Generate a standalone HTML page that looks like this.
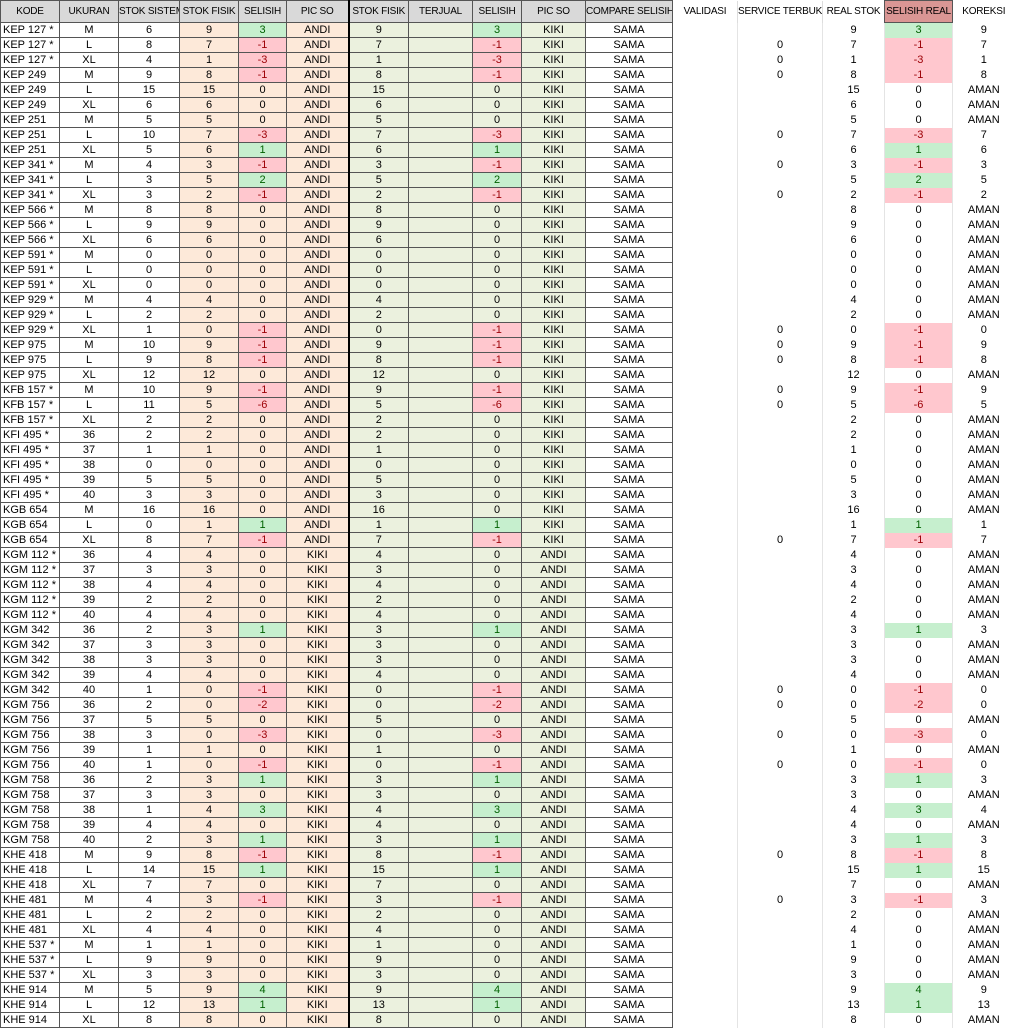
<!DOCTYPE html><html><head><meta charset="utf-8"><style>
body{margin:0;background:#fff;width:1014px;height:1027px;overflow:hidden}
table{border-collapse:collapse;table-layout:fixed;width:1014px;font-family:"Liberation Sans",Arial,sans-serif;font-size:11px;color:#000}
td{border:1px solid #555;height:14px;padding:0;text-align:center;white-space:nowrap;overflow:hidden;line-height:13px}
tr.h td{height:21px;background:#d9d9d9;font-size:10px;letter-spacing:-0.2px}
tr.h td.x{background:#fff;border:none;border-left:1px solid #ddd}
tr.h td.sr{background:#da9694}
td.l{text-align:left;padding-left:2px}
td.p{background:#fde9d9}
td.g{background:#ebf1de}
td.G{background:#c6efce;color:#006100}
td.R{background:#ffc7ce;color:#9c0006}
td.k{border-left:2px solid #000}
td.w{border:none;border-left:1px solid #e4e4e4}
td.v{border-left:1px solid #333}
</style></head><body>
<table>
<colgroup><col style="width:59px"><col style="width:59px"><col style="width:61px"><col style="width:59px"><col style="width:48px"><col style="width:62px"><col style="width:60px"><col style="width:64px"><col style="width:49px"><col style="width:64px"><col style="width:87px"><col style="width:65px"><col style="width:85px"><col style="width:62px"><col style="width:68px"><col style="width:62px"></colgroup>
<tr class="h"><td>KODE</td><td>UKURAN</td><td>STOK SISTEM</td><td>STOK FISIK</td><td>SELISIH</td><td>PIC SO</td><td class="k">STOK FISIK</td><td>TERJUAL</td><td>SELISIH</td><td>PIC SO</td><td>COMPARE SELISIH</td><td class="x v">VALIDASI</td><td class="x">SERVICE TERBUKA</td><td class="x">REAL STOK</td><td class="sr">SELISIH REAL</td><td class="x">KOREKSI</td></tr>
<tr><td class="l">KEP 127 *</td><td>M</td><td>6</td><td class="p">9</td><td class="G">3</td><td class="p">ANDI</td><td class="g k">9</td><td class="g"></td><td class="G">3</td><td class="g">KIKI</td><td>SAMA</td><td class="w v"></td><td class="w"></td><td class="w">9</td><td class="w G">3</td><td class="w">9</td></tr>
<tr><td class="l">KEP 127 *</td><td>L</td><td>8</td><td class="p">7</td><td class="R">-1</td><td class="p">ANDI</td><td class="g k">7</td><td class="g"></td><td class="R">-1</td><td class="g">KIKI</td><td>SAMA</td><td class="w v"></td><td class="w">0</td><td class="w">7</td><td class="w R">-1</td><td class="w">7</td></tr>
<tr><td class="l">KEP 127 *</td><td>XL</td><td>4</td><td class="p">1</td><td class="R">-3</td><td class="p">ANDI</td><td class="g k">1</td><td class="g"></td><td class="R">-3</td><td class="g">KIKI</td><td>SAMA</td><td class="w v"></td><td class="w">0</td><td class="w">1</td><td class="w R">-3</td><td class="w">1</td></tr>
<tr><td class="l">KEP 249</td><td>M</td><td>9</td><td class="p">8</td><td class="R">-1</td><td class="p">ANDI</td><td class="g k">8</td><td class="g"></td><td class="R">-1</td><td class="g">KIKI</td><td>SAMA</td><td class="w v"></td><td class="w">0</td><td class="w">8</td><td class="w R">-1</td><td class="w">8</td></tr>
<tr><td class="l">KEP 249</td><td>L</td><td>15</td><td class="p">15</td><td class="p">0</td><td class="p">ANDI</td><td class="g k">15</td><td class="g"></td><td class="g">0</td><td class="g">KIKI</td><td>SAMA</td><td class="w v"></td><td class="w"></td><td class="w">15</td><td class="w">0</td><td class="w">AMAN</td></tr>
<tr><td class="l">KEP 249</td><td>XL</td><td>6</td><td class="p">6</td><td class="p">0</td><td class="p">ANDI</td><td class="g k">6</td><td class="g"></td><td class="g">0</td><td class="g">KIKI</td><td>SAMA</td><td class="w v"></td><td class="w"></td><td class="w">6</td><td class="w">0</td><td class="w">AMAN</td></tr>
<tr><td class="l">KEP 251</td><td>M</td><td>5</td><td class="p">5</td><td class="p">0</td><td class="p">ANDI</td><td class="g k">5</td><td class="g"></td><td class="g">0</td><td class="g">KIKI</td><td>SAMA</td><td class="w v"></td><td class="w"></td><td class="w">5</td><td class="w">0</td><td class="w">AMAN</td></tr>
<tr><td class="l">KEP 251</td><td>L</td><td>10</td><td class="p">7</td><td class="R">-3</td><td class="p">ANDI</td><td class="g k">7</td><td class="g"></td><td class="R">-3</td><td class="g">KIKI</td><td>SAMA</td><td class="w v"></td><td class="w">0</td><td class="w">7</td><td class="w R">-3</td><td class="w">7</td></tr>
<tr><td class="l">KEP 251</td><td>XL</td><td>5</td><td class="p">6</td><td class="G">1</td><td class="p">ANDI</td><td class="g k">6</td><td class="g"></td><td class="G">1</td><td class="g">KIKI</td><td>SAMA</td><td class="w v"></td><td class="w"></td><td class="w">6</td><td class="w G">1</td><td class="w">6</td></tr>
<tr><td class="l">KEP 341 *</td><td>M</td><td>4</td><td class="p">3</td><td class="R">-1</td><td class="p">ANDI</td><td class="g k">3</td><td class="g"></td><td class="R">-1</td><td class="g">KIKI</td><td>SAMA</td><td class="w v"></td><td class="w">0</td><td class="w">3</td><td class="w R">-1</td><td class="w">3</td></tr>
<tr><td class="l">KEP 341 *</td><td>L</td><td>3</td><td class="p">5</td><td class="G">2</td><td class="p">ANDI</td><td class="g k">5</td><td class="g"></td><td class="G">2</td><td class="g">KIKI</td><td>SAMA</td><td class="w v"></td><td class="w"></td><td class="w">5</td><td class="w G">2</td><td class="w">5</td></tr>
<tr><td class="l">KEP 341 *</td><td>XL</td><td>3</td><td class="p">2</td><td class="R">-1</td><td class="p">ANDI</td><td class="g k">2</td><td class="g"></td><td class="R">-1</td><td class="g">KIKI</td><td>SAMA</td><td class="w v"></td><td class="w">0</td><td class="w">2</td><td class="w R">-1</td><td class="w">2</td></tr>
<tr><td class="l">KEP 566 *</td><td>M</td><td>8</td><td class="p">8</td><td class="p">0</td><td class="p">ANDI</td><td class="g k">8</td><td class="g"></td><td class="g">0</td><td class="g">KIKI</td><td>SAMA</td><td class="w v"></td><td class="w"></td><td class="w">8</td><td class="w">0</td><td class="w">AMAN</td></tr>
<tr><td class="l">KEP 566 *</td><td>L</td><td>9</td><td class="p">9</td><td class="p">0</td><td class="p">ANDI</td><td class="g k">9</td><td class="g"></td><td class="g">0</td><td class="g">KIKI</td><td>SAMA</td><td class="w v"></td><td class="w"></td><td class="w">9</td><td class="w">0</td><td class="w">AMAN</td></tr>
<tr><td class="l">KEP 566 *</td><td>XL</td><td>6</td><td class="p">6</td><td class="p">0</td><td class="p">ANDI</td><td class="g k">6</td><td class="g"></td><td class="g">0</td><td class="g">KIKI</td><td>SAMA</td><td class="w v"></td><td class="w"></td><td class="w">6</td><td class="w">0</td><td class="w">AMAN</td></tr>
<tr><td class="l">KEP 591 *</td><td>M</td><td>0</td><td class="p">0</td><td class="p">0</td><td class="p">ANDI</td><td class="g k">0</td><td class="g"></td><td class="g">0</td><td class="g">KIKI</td><td>SAMA</td><td class="w v"></td><td class="w"></td><td class="w">0</td><td class="w">0</td><td class="w">AMAN</td></tr>
<tr><td class="l">KEP 591 *</td><td>L</td><td>0</td><td class="p">0</td><td class="p">0</td><td class="p">ANDI</td><td class="g k">0</td><td class="g"></td><td class="g">0</td><td class="g">KIKI</td><td>SAMA</td><td class="w v"></td><td class="w"></td><td class="w">0</td><td class="w">0</td><td class="w">AMAN</td></tr>
<tr><td class="l">KEP 591 *</td><td>XL</td><td>0</td><td class="p">0</td><td class="p">0</td><td class="p">ANDI</td><td class="g k">0</td><td class="g"></td><td class="g">0</td><td class="g">KIKI</td><td>SAMA</td><td class="w v"></td><td class="w"></td><td class="w">0</td><td class="w">0</td><td class="w">AMAN</td></tr>
<tr><td class="l">KEP 929 *</td><td>M</td><td>4</td><td class="p">4</td><td class="p">0</td><td class="p">ANDI</td><td class="g k">4</td><td class="g"></td><td class="g">0</td><td class="g">KIKI</td><td>SAMA</td><td class="w v"></td><td class="w"></td><td class="w">4</td><td class="w">0</td><td class="w">AMAN</td></tr>
<tr><td class="l">KEP 929 *</td><td>L</td><td>2</td><td class="p">2</td><td class="p">0</td><td class="p">ANDI</td><td class="g k">2</td><td class="g"></td><td class="g">0</td><td class="g">KIKI</td><td>SAMA</td><td class="w v"></td><td class="w"></td><td class="w">2</td><td class="w">0</td><td class="w">AMAN</td></tr>
<tr><td class="l">KEP 929 *</td><td>XL</td><td>1</td><td class="p">0</td><td class="R">-1</td><td class="p">ANDI</td><td class="g k">0</td><td class="g"></td><td class="R">-1</td><td class="g">KIKI</td><td>SAMA</td><td class="w v"></td><td class="w">0</td><td class="w">0</td><td class="w R">-1</td><td class="w">0</td></tr>
<tr><td class="l">KEP 975</td><td>M</td><td>10</td><td class="p">9</td><td class="R">-1</td><td class="p">ANDI</td><td class="g k">9</td><td class="g"></td><td class="R">-1</td><td class="g">KIKI</td><td>SAMA</td><td class="w v"></td><td class="w">0</td><td class="w">9</td><td class="w R">-1</td><td class="w">9</td></tr>
<tr><td class="l">KEP 975</td><td>L</td><td>9</td><td class="p">8</td><td class="R">-1</td><td class="p">ANDI</td><td class="g k">8</td><td class="g"></td><td class="R">-1</td><td class="g">KIKI</td><td>SAMA</td><td class="w v"></td><td class="w">0</td><td class="w">8</td><td class="w R">-1</td><td class="w">8</td></tr>
<tr><td class="l">KEP 975</td><td>XL</td><td>12</td><td class="p">12</td><td class="p">0</td><td class="p">ANDI</td><td class="g k">12</td><td class="g"></td><td class="g">0</td><td class="g">KIKI</td><td>SAMA</td><td class="w v"></td><td class="w"></td><td class="w">12</td><td class="w">0</td><td class="w">AMAN</td></tr>
<tr><td class="l">KFB 157 *</td><td>M</td><td>10</td><td class="p">9</td><td class="R">-1</td><td class="p">ANDI</td><td class="g k">9</td><td class="g"></td><td class="R">-1</td><td class="g">KIKI</td><td>SAMA</td><td class="w v"></td><td class="w">0</td><td class="w">9</td><td class="w R">-1</td><td class="w">9</td></tr>
<tr><td class="l">KFB 157 *</td><td>L</td><td>11</td><td class="p">5</td><td class="R">-6</td><td class="p">ANDI</td><td class="g k">5</td><td class="g"></td><td class="R">-6</td><td class="g">KIKI</td><td>SAMA</td><td class="w v"></td><td class="w">0</td><td class="w">5</td><td class="w R">-6</td><td class="w">5</td></tr>
<tr><td class="l">KFB 157 *</td><td>XL</td><td>2</td><td class="p">2</td><td class="p">0</td><td class="p">ANDI</td><td class="g k">2</td><td class="g"></td><td class="g">0</td><td class="g">KIKI</td><td>SAMA</td><td class="w v"></td><td class="w"></td><td class="w">2</td><td class="w">0</td><td class="w">AMAN</td></tr>
<tr><td class="l">KFI 495 *</td><td>36</td><td>2</td><td class="p">2</td><td class="p">0</td><td class="p">ANDI</td><td class="g k">2</td><td class="g"></td><td class="g">0</td><td class="g">KIKI</td><td>SAMA</td><td class="w v"></td><td class="w"></td><td class="w">2</td><td class="w">0</td><td class="w">AMAN</td></tr>
<tr><td class="l">KFI 495 *</td><td>37</td><td>1</td><td class="p">1</td><td class="p">0</td><td class="p">ANDI</td><td class="g k">1</td><td class="g"></td><td class="g">0</td><td class="g">KIKI</td><td>SAMA</td><td class="w v"></td><td class="w"></td><td class="w">1</td><td class="w">0</td><td class="w">AMAN</td></tr>
<tr><td class="l">KFI 495 *</td><td>38</td><td>0</td><td class="p">0</td><td class="p">0</td><td class="p">ANDI</td><td class="g k">0</td><td class="g"></td><td class="g">0</td><td class="g">KIKI</td><td>SAMA</td><td class="w v"></td><td class="w"></td><td class="w">0</td><td class="w">0</td><td class="w">AMAN</td></tr>
<tr><td class="l">KFI 495 *</td><td>39</td><td>5</td><td class="p">5</td><td class="p">0</td><td class="p">ANDI</td><td class="g k">5</td><td class="g"></td><td class="g">0</td><td class="g">KIKI</td><td>SAMA</td><td class="w v"></td><td class="w"></td><td class="w">5</td><td class="w">0</td><td class="w">AMAN</td></tr>
<tr><td class="l">KFI 495 *</td><td>40</td><td>3</td><td class="p">3</td><td class="p">0</td><td class="p">ANDI</td><td class="g k">3</td><td class="g"></td><td class="g">0</td><td class="g">KIKI</td><td>SAMA</td><td class="w v"></td><td class="w"></td><td class="w">3</td><td class="w">0</td><td class="w">AMAN</td></tr>
<tr><td class="l">KGB 654</td><td>M</td><td>16</td><td class="p">16</td><td class="p">0</td><td class="p">ANDI</td><td class="g k">16</td><td class="g"></td><td class="g">0</td><td class="g">KIKI</td><td>SAMA</td><td class="w v"></td><td class="w"></td><td class="w">16</td><td class="w">0</td><td class="w">AMAN</td></tr>
<tr><td class="l">KGB 654</td><td>L</td><td>0</td><td class="p">1</td><td class="G">1</td><td class="p">ANDI</td><td class="g k">1</td><td class="g"></td><td class="G">1</td><td class="g">KIKI</td><td>SAMA</td><td class="w v"></td><td class="w"></td><td class="w">1</td><td class="w G">1</td><td class="w">1</td></tr>
<tr><td class="l">KGB 654</td><td>XL</td><td>8</td><td class="p">7</td><td class="R">-1</td><td class="p">ANDI</td><td class="g k">7</td><td class="g"></td><td class="R">-1</td><td class="g">KIKI</td><td>SAMA</td><td class="w v"></td><td class="w">0</td><td class="w">7</td><td class="w R">-1</td><td class="w">7</td></tr>
<tr><td class="l">KGM 112 *</td><td>36</td><td>4</td><td class="p">4</td><td class="p">0</td><td class="p">KIKI</td><td class="g k">4</td><td class="g"></td><td class="g">0</td><td class="g">ANDI</td><td>SAMA</td><td class="w v"></td><td class="w"></td><td class="w">4</td><td class="w">0</td><td class="w">AMAN</td></tr>
<tr><td class="l">KGM 112 *</td><td>37</td><td>3</td><td class="p">3</td><td class="p">0</td><td class="p">KIKI</td><td class="g k">3</td><td class="g"></td><td class="g">0</td><td class="g">ANDI</td><td>SAMA</td><td class="w v"></td><td class="w"></td><td class="w">3</td><td class="w">0</td><td class="w">AMAN</td></tr>
<tr><td class="l">KGM 112 *</td><td>38</td><td>4</td><td class="p">4</td><td class="p">0</td><td class="p">KIKI</td><td class="g k">4</td><td class="g"></td><td class="g">0</td><td class="g">ANDI</td><td>SAMA</td><td class="w v"></td><td class="w"></td><td class="w">4</td><td class="w">0</td><td class="w">AMAN</td></tr>
<tr><td class="l">KGM 112 *</td><td>39</td><td>2</td><td class="p">2</td><td class="p">0</td><td class="p">KIKI</td><td class="g k">2</td><td class="g"></td><td class="g">0</td><td class="g">ANDI</td><td>SAMA</td><td class="w v"></td><td class="w"></td><td class="w">2</td><td class="w">0</td><td class="w">AMAN</td></tr>
<tr><td class="l">KGM 112 *</td><td>40</td><td>4</td><td class="p">4</td><td class="p">0</td><td class="p">KIKI</td><td class="g k">4</td><td class="g"></td><td class="g">0</td><td class="g">ANDI</td><td>SAMA</td><td class="w v"></td><td class="w"></td><td class="w">4</td><td class="w">0</td><td class="w">AMAN</td></tr>
<tr><td class="l">KGM 342</td><td>36</td><td>2</td><td class="p">3</td><td class="G">1</td><td class="p">KIKI</td><td class="g k">3</td><td class="g"></td><td class="G">1</td><td class="g">ANDI</td><td>SAMA</td><td class="w v"></td><td class="w"></td><td class="w">3</td><td class="w G">1</td><td class="w">3</td></tr>
<tr><td class="l">KGM 342</td><td>37</td><td>3</td><td class="p">3</td><td class="p">0</td><td class="p">KIKI</td><td class="g k">3</td><td class="g"></td><td class="g">0</td><td class="g">ANDI</td><td>SAMA</td><td class="w v"></td><td class="w"></td><td class="w">3</td><td class="w">0</td><td class="w">AMAN</td></tr>
<tr><td class="l">KGM 342</td><td>38</td><td>3</td><td class="p">3</td><td class="p">0</td><td class="p">KIKI</td><td class="g k">3</td><td class="g"></td><td class="g">0</td><td class="g">ANDI</td><td>SAMA</td><td class="w v"></td><td class="w"></td><td class="w">3</td><td class="w">0</td><td class="w">AMAN</td></tr>
<tr><td class="l">KGM 342</td><td>39</td><td>4</td><td class="p">4</td><td class="p">0</td><td class="p">KIKI</td><td class="g k">4</td><td class="g"></td><td class="g">0</td><td class="g">ANDI</td><td>SAMA</td><td class="w v"></td><td class="w"></td><td class="w">4</td><td class="w">0</td><td class="w">AMAN</td></tr>
<tr><td class="l">KGM 342</td><td>40</td><td>1</td><td class="p">0</td><td class="R">-1</td><td class="p">KIKI</td><td class="g k">0</td><td class="g"></td><td class="R">-1</td><td class="g">ANDI</td><td>SAMA</td><td class="w v"></td><td class="w">0</td><td class="w">0</td><td class="w R">-1</td><td class="w">0</td></tr>
<tr><td class="l">KGM 756</td><td>36</td><td>2</td><td class="p">0</td><td class="R">-2</td><td class="p">KIKI</td><td class="g k">0</td><td class="g"></td><td class="R">-2</td><td class="g">ANDI</td><td>SAMA</td><td class="w v"></td><td class="w">0</td><td class="w">0</td><td class="w R">-2</td><td class="w">0</td></tr>
<tr><td class="l">KGM 756</td><td>37</td><td>5</td><td class="p">5</td><td class="p">0</td><td class="p">KIKI</td><td class="g k">5</td><td class="g"></td><td class="g">0</td><td class="g">ANDI</td><td>SAMA</td><td class="w v"></td><td class="w"></td><td class="w">5</td><td class="w">0</td><td class="w">AMAN</td></tr>
<tr><td class="l">KGM 756</td><td>38</td><td>3</td><td class="p">0</td><td class="R">-3</td><td class="p">KIKI</td><td class="g k">0</td><td class="g"></td><td class="R">-3</td><td class="g">ANDI</td><td>SAMA</td><td class="w v"></td><td class="w">0</td><td class="w">0</td><td class="w R">-3</td><td class="w">0</td></tr>
<tr><td class="l">KGM 756</td><td>39</td><td>1</td><td class="p">1</td><td class="p">0</td><td class="p">KIKI</td><td class="g k">1</td><td class="g"></td><td class="g">0</td><td class="g">ANDI</td><td>SAMA</td><td class="w v"></td><td class="w"></td><td class="w">1</td><td class="w">0</td><td class="w">AMAN</td></tr>
<tr><td class="l">KGM 756</td><td>40</td><td>1</td><td class="p">0</td><td class="R">-1</td><td class="p">KIKI</td><td class="g k">0</td><td class="g"></td><td class="R">-1</td><td class="g">ANDI</td><td>SAMA</td><td class="w v"></td><td class="w">0</td><td class="w">0</td><td class="w R">-1</td><td class="w">0</td></tr>
<tr><td class="l">KGM 758</td><td>36</td><td>2</td><td class="p">3</td><td class="G">1</td><td class="p">KIKI</td><td class="g k">3</td><td class="g"></td><td class="G">1</td><td class="g">ANDI</td><td>SAMA</td><td class="w v"></td><td class="w"></td><td class="w">3</td><td class="w G">1</td><td class="w">3</td></tr>
<tr><td class="l">KGM 758</td><td>37</td><td>3</td><td class="p">3</td><td class="p">0</td><td class="p">KIKI</td><td class="g k">3</td><td class="g"></td><td class="g">0</td><td class="g">ANDI</td><td>SAMA</td><td class="w v"></td><td class="w"></td><td class="w">3</td><td class="w">0</td><td class="w">AMAN</td></tr>
<tr><td class="l">KGM 758</td><td>38</td><td>1</td><td class="p">4</td><td class="G">3</td><td class="p">KIKI</td><td class="g k">4</td><td class="g"></td><td class="G">3</td><td class="g">ANDI</td><td>SAMA</td><td class="w v"></td><td class="w"></td><td class="w">4</td><td class="w G">3</td><td class="w">4</td></tr>
<tr><td class="l">KGM 758</td><td>39</td><td>4</td><td class="p">4</td><td class="p">0</td><td class="p">KIKI</td><td class="g k">4</td><td class="g"></td><td class="g">0</td><td class="g">ANDI</td><td>SAMA</td><td class="w v"></td><td class="w"></td><td class="w">4</td><td class="w">0</td><td class="w">AMAN</td></tr>
<tr><td class="l">KGM 758</td><td>40</td><td>2</td><td class="p">3</td><td class="G">1</td><td class="p">KIKI</td><td class="g k">3</td><td class="g"></td><td class="G">1</td><td class="g">ANDI</td><td>SAMA</td><td class="w v"></td><td class="w"></td><td class="w">3</td><td class="w G">1</td><td class="w">3</td></tr>
<tr><td class="l">KHE 418</td><td>M</td><td>9</td><td class="p">8</td><td class="R">-1</td><td class="p">KIKI</td><td class="g k">8</td><td class="g"></td><td class="R">-1</td><td class="g">ANDI</td><td>SAMA</td><td class="w v"></td><td class="w">0</td><td class="w">8</td><td class="w R">-1</td><td class="w">8</td></tr>
<tr><td class="l">KHE 418</td><td>L</td><td>14</td><td class="p">15</td><td class="G">1</td><td class="p">KIKI</td><td class="g k">15</td><td class="g"></td><td class="G">1</td><td class="g">ANDI</td><td>SAMA</td><td class="w v"></td><td class="w"></td><td class="w">15</td><td class="w G">1</td><td class="w">15</td></tr>
<tr><td class="l">KHE 418</td><td>XL</td><td>7</td><td class="p">7</td><td class="p">0</td><td class="p">KIKI</td><td class="g k">7</td><td class="g"></td><td class="g">0</td><td class="g">ANDI</td><td>SAMA</td><td class="w v"></td><td class="w"></td><td class="w">7</td><td class="w">0</td><td class="w">AMAN</td></tr>
<tr><td class="l">KHE 481</td><td>M</td><td>4</td><td class="p">3</td><td class="R">-1</td><td class="p">KIKI</td><td class="g k">3</td><td class="g"></td><td class="R">-1</td><td class="g">ANDI</td><td>SAMA</td><td class="w v"></td><td class="w">0</td><td class="w">3</td><td class="w R">-1</td><td class="w">3</td></tr>
<tr><td class="l">KHE 481</td><td>L</td><td>2</td><td class="p">2</td><td class="p">0</td><td class="p">KIKI</td><td class="g k">2</td><td class="g"></td><td class="g">0</td><td class="g">ANDI</td><td>SAMA</td><td class="w v"></td><td class="w"></td><td class="w">2</td><td class="w">0</td><td class="w">AMAN</td></tr>
<tr><td class="l">KHE 481</td><td>XL</td><td>4</td><td class="p">4</td><td class="p">0</td><td class="p">KIKI</td><td class="g k">4</td><td class="g"></td><td class="g">0</td><td class="g">ANDI</td><td>SAMA</td><td class="w v"></td><td class="w"></td><td class="w">4</td><td class="w">0</td><td class="w">AMAN</td></tr>
<tr><td class="l">KHE 537 *</td><td>M</td><td>1</td><td class="p">1</td><td class="p">0</td><td class="p">KIKI</td><td class="g k">1</td><td class="g"></td><td class="g">0</td><td class="g">ANDI</td><td>SAMA</td><td class="w v"></td><td class="w"></td><td class="w">1</td><td class="w">0</td><td class="w">AMAN</td></tr>
<tr><td class="l">KHE 537 *</td><td>L</td><td>9</td><td class="p">9</td><td class="p">0</td><td class="p">KIKI</td><td class="g k">9</td><td class="g"></td><td class="g">0</td><td class="g">ANDI</td><td>SAMA</td><td class="w v"></td><td class="w"></td><td class="w">9</td><td class="w">0</td><td class="w">AMAN</td></tr>
<tr><td class="l">KHE 537 *</td><td>XL</td><td>3</td><td class="p">3</td><td class="p">0</td><td class="p">KIKI</td><td class="g k">3</td><td class="g"></td><td class="g">0</td><td class="g">ANDI</td><td>SAMA</td><td class="w v"></td><td class="w"></td><td class="w">3</td><td class="w">0</td><td class="w">AMAN</td></tr>
<tr><td class="l">KHE 914</td><td>M</td><td>5</td><td class="p">9</td><td class="G">4</td><td class="p">KIKI</td><td class="g k">9</td><td class="g"></td><td class="G">4</td><td class="g">ANDI</td><td>SAMA</td><td class="w v"></td><td class="w"></td><td class="w">9</td><td class="w G">4</td><td class="w">9</td></tr>
<tr><td class="l">KHE 914</td><td>L</td><td>12</td><td class="p">13</td><td class="G">1</td><td class="p">KIKI</td><td class="g k">13</td><td class="g"></td><td class="G">1</td><td class="g">ANDI</td><td>SAMA</td><td class="w v"></td><td class="w"></td><td class="w">13</td><td class="w G">1</td><td class="w">13</td></tr>
<tr><td class="l">KHE 914</td><td>XL</td><td>8</td><td class="p">8</td><td class="p">0</td><td class="p">KIKI</td><td class="g k">8</td><td class="g"></td><td class="g">0</td><td class="g">ANDI</td><td>SAMA</td><td class="w v"></td><td class="w"></td><td class="w">8</td><td class="w">0</td><td class="w">AMAN</td></tr>
</table>
</body></html>
